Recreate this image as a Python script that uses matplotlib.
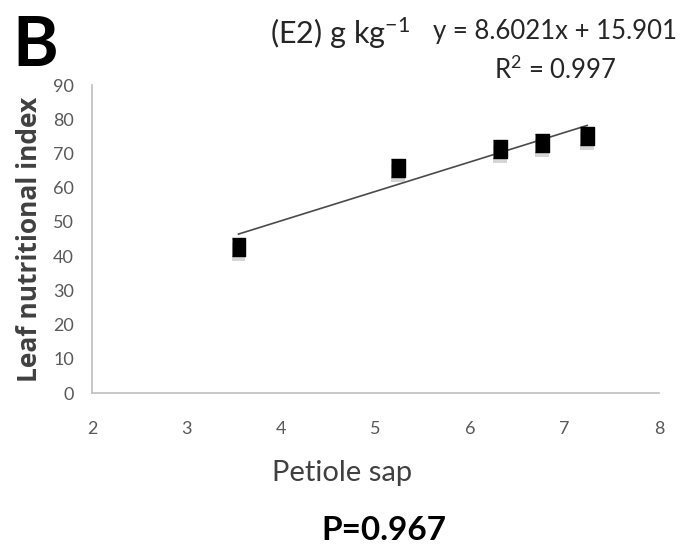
import matplotlib
matplotlib.use('Agg')
import matplotlib.pyplot as plt
import matplotlib.patheffects as pe
import numpy as np

# data
petiole_sap = [3.55, 5.24, 6.32, 6.76, 7.24]
leaf_index = [42.7, 65.8, 71.3, 73.1, 75.1]
slope = 8.6021
intercept = 15.901
r2 = 0.997
p_value = 0.967

x_ticks = [2, 3, 4, 5, 6, 7, 8]
y_ticks = [0, 10, 20, 30, 40, 50, 60, 70, 80, 90]

plt.rcParams['font.family'] = ['Lato', 'DejaVu Sans']
plt.rcParams['mathtext.default'] = 'regular'


def main():
    fig = plt.figure(figsize=(6.91, 5.54), dpi=100)
    ax = fig.add_axes([92 / 691, 1 - 393 / 554, 567 / 691, 308 / 554])

    # fitted trendline over the data range
    xs = np.array([min(petiole_sap), max(petiole_sap)])
    ax.plot(xs, slope * xs + intercept, color='#4a4a4a', lw=1.2, zorder=2)

    marker = [(-0.38, -0.5), (0.38, -0.5), (0.38, 0.5), (-0.38, 0.5)]
    ax.plot(petiole_sap, leaf_index, linestyle='none', marker=marker,
            markersize=13, color='black', zorder=3,
            path_effects=[pe.SimplePatchShadow(offset=(0, -3.5), shadow_rgbFace='0.55', alpha=0.35),
                          pe.Normal()])

    ax.set_xlim(2, 8)
    ax.set_ylim(0, 90)
    ax.set_xticks(x_ticks)
    ax.set_yticks(y_ticks)
    ax.tick_params(length=0, labelcolor='#595959', labelsize=13)
    ax.tick_params(axis='x', pad=20)
    ax.tick_params(axis='y', pad=13)
    for side in ['top', 'right']:
        ax.spines[side].set_visible(False)
    for side in ['left', 'bottom']:
        ax.spines[side].set_color('#bfbfbf')
        ax.spines[side].set_linewidth(1.2)

    ax.set_xlabel('Petiole sap', fontsize=21, color='#404040', va='center')
    ax.xaxis.set_label_coords(0.441, -0.26)
    ax.set_ylabel('Leaf nutritional index', fontsize=19, fontweight='bold',
                  color='#404040', family=['Open Sans', 'DejaVu Sans'], va='center')
    ax.yaxis.set_label_coords(-0.110, 0.5)

    fig.text(35 / 691, 1 - 47 / 554, 'B', fontsize=50, fontweight='bold',
             ha='center', va='center')
    fig.text(340 / 691, 1 - 33 / 554, '(E2) g kg$^{-1}$', fontsize=22,
             ha='center', va='center', color='#262626')
    fig.text(555 / 691, 1 - 31 / 554, f'y = {slope}x + {intercept}', fontsize=18.5,
             ha='center', va='center', color='#262626')
    fig.text(555 / 691, 1 - 70 / 554, f'R$^2$ = {r2}', fontsize=18.5,
             ha='center', va='center', color='#262626')
    fig.text(384 / 691, 1 - 531 / 554, f'P={p_value}', fontsize=24,
             fontweight='bold', ha='center', va='center')

    fig.savefig('out.png', dpi=100)


if __name__ == '__main__':
    main()
